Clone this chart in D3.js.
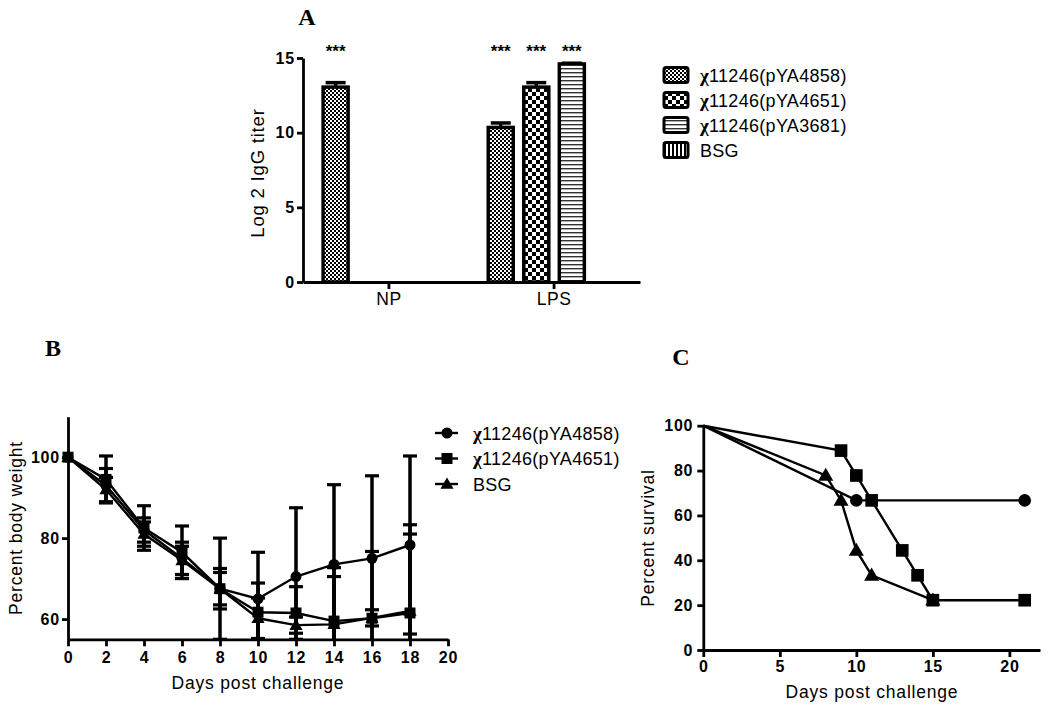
<!DOCTYPE html>
<html><head><meta charset="utf-8">
<script src="https://cdn.jsdelivr.net/npm/d3@7"></script>
<style>body{margin:0;background:#fff}</style>
</head><body>
<svg id="c" width="1050" height="711" xmlns="http://www.w3.org/2000/svg"></svg>
<script>
// ---------------- DATA ----------------
// Panel A
const groupsA = ["NP", "LPS"];
const seriesA = ["11246(pYA4858)", "11246(pYA4651)", "11246(pYA3681)", "BSG"];
const chiPrefixA = [true, true, true, false];
const npValues = [13.05, 0, 0, 0];
const npErrors = [0.3, 0, 0, 0];
const lpsValues = [10.35, 13.05, 14.6, 0];
const lpsErrors = [0.3, 0.3, 0.05, 0];
const npStars = ["***", "", "", ""];
const lpsStars = ["***", "***", "***", ""];
const yTicksA = [0, 5, 10, 15];

// Panel B
const daysB = [0, 2, 4, 6, 8, 10, 12, 14, 16, 18];
const weight4858 = [100, 93, 82, 75, 67.5, 65, 70.5, 73.5, 75, 78.3];
const weight4858Err = [0, 4.2, 3, 4, 12.5, 11.5, 17, 19.7, 20.4, 22];
const weight4651 = [100, 94.5, 82.5, 76.5, 67.5, 61.7, 61.5, 59.5, 60.2, 61.5];
const weight4651Err = [0, 5.8, 5.5, 6.5, 4, 7.2, 6.5, 11, 16.5, 21.8];
const weightBSG = [100, 92, 81, 74.5, 67.5, 60.2, 58.5, 58.7, 60.3, 62];
const weightBSGErr = [0, 3, 3, 3.5, 5, 5, 2, 14, 2, 19];
const seriesB = ["11246(pYA4858)", "11246(pYA4651)", "BSG"];
const xTicksB = [0, 2, 4, 6, 8, 10, 12, 14, 16, 18, 20];
const yTicksB = [60, 80, 100];

// Panel C
const days4858C = [0, 10, 21];
const surv4858C = [100, 66.7, 66.7];
const days4651C = [0, 9, 10, 11, 13, 14, 15, 21];
const surv4651C = [100, 88.9, 77.8, 66.7, 44.4, 33.3, 22.2, 22.2];
const daysBSGC = [0, 8, 9, 10, 11, 15];
const survBSGC = [100, 77.8, 66.7, 44.4, 33.3, 22.2];
const xTicksC = [0, 5, 10, 15, 20];
const yTicksC = [0, 20, 40, 60, 80, 100];

// ---------------- DRAWING ----------------
const SANS = "'Liberation Sans', Arial, sans-serif";
const SERIF = "'Liberation Serif', 'Times New Roman', serif";
const svg = d3.select("#c");
const defs = svg.append("defs");

function pattern(id, w, h, build) {
  const p = defs.append("pattern").attr("id", id).attr("patternUnits", "userSpaceOnUse")
    .attr("width", w).attr("height", h);
  p.append("rect").attr("width", w).attr("height", h).attr("fill", "#fff");
  build(p);
}
pattern("p0", 4, 4, p => {
  p.append("rect").attr("x", 0).attr("y", 0).attr("width", 2).attr("height", 2).attr("fill", "#000");
  p.append("rect").attr("x", 2).attr("y", 2).attr("width", 2).attr("height", 2).attr("fill", "#000");
});
pattern("p1", 8, 8, p => {
  p.append("rect").attr("x", 0).attr("y", 0).attr("width", 4).attr("height", 4).attr("fill", "#000");
  p.append("rect").attr("x", 4).attr("y", 4).attr("width", 4).attr("height", 4).attr("fill", "#000");
});
pattern("p2", 4, 4, p => {
  p.append("rect").attr("x", 0).attr("y", 0).attr("width", 4).attr("height", 1.4).attr("fill", "#333");
});
pattern("p3", 4, 4, p => {
  p.append("rect").attr("x", 0).attr("y", 0).attr("width", 2).attr("height", 4).attr("fill", "#000");
});

function styleAxis(g, bold, size) {
  g.select(".domain").attr("stroke", "#000").attr("stroke-width", 2.8);
  g.selectAll(".tick line").attr("stroke", "#000").attr("stroke-width", 2.8);
  g.selectAll(".tick text").attr("fill", "#000")
    .style("font-family", SANS).style("font-weight", bold ? "bold" : "normal")
    .style("font-size", size + "px").style("letter-spacing", bold ? "0.8px" : "0.5px");
}
function addLabel(text, x, y, rotate, size) {
  const t = svg.append("text").attr("x", x).attr("y", y)
    .attr("text-anchor", "middle")
    .style("font-family", SANS).style("font-size", (size || 17.5) + "px").style("letter-spacing", "0.8px")
    .attr("fill", "#000").text(text);
  if (rotate) t.attr("transform", `rotate(-90,${x},${y})`);
}
function addLegendText(x, y, name, chi) {
  const t = svg.append("text").attr("x", x).attr("y", y)
    .style("font-family", SANS).style("font-size", "18px").style("letter-spacing", "0.3px").attr("fill", "#000");
  if (chi) t.append("tspan").style("font-family", SERIF).style("font-weight", "bold").style("font-size", "19px").text("χ");
  t.append("tspan").text(name);
}
function panelLetter(letter, x, y) {
  svg.append("text").attr("x", x).attr("y", y).attr("text-anchor", "middle")
    .style("font-family", SERIF).style("font-weight", "bold").style("font-size", "24px")
    .attr("fill", "#000").text(letter);
}

// ======== Panel A ========
panelLetter("A", 307, 25);
const xA0 = d3.scaleBand().domain(groupsA).range([303, 640]).paddingInner(0.139).paddingOuter(0.09);
const xA1 = d3.scaleBand().domain(seriesA).range([0, xA0.bandwidth()]).paddingInner(0.296).paddingOuter(0.148);
const yA = d3.scaleLinear().domain([0, 15]).range([282, 58]);
const valuesA = { NP: npValues, LPS: lpsValues };
const errorsA = { NP: npErrors, LPS: lpsErrors };
const starsA = { NP: npStars, LPS: lpsStars };

const gA = svg.append("g");
groupsA.forEach(g => {
  seriesA.forEach((s, i) => {
    const v = valuesA[g][i], e = errorsA[g][i];
    const cx = xA0(g) + xA1(s) + xA1.bandwidth() / 2;
    if (v > 0) {
      gA.append("line").attr("x1", cx).attr("x2", cx).attr("y1", yA(v)).attr("y2", yA(v + e))
        .attr("stroke", "#000").attr("stroke-width", 3.5);
      gA.append("line").attr("x1", cx - 10).attr("x2", cx + 10).attr("y1", yA(v + e)).attr("y2", yA(v + e))
        .attr("stroke", "#000").attr("stroke-width", 3.5);
      gA.append("rect").attr("x", xA0(g) + xA1(s)).attr("y", yA(v))
        .attr("width", xA1.bandwidth()).attr("height", yA(0) - yA(v))
        .attr("fill", `url(#p${i})`).attr("stroke", "#000").attr("stroke-width", 3.5);
    }
    if (starsA[g][i]) {
      gA.append("text").attr("x", cx).attr("y", 57).attr("text-anchor", "middle")
        .style("font-family", SANS).style("font-weight", "bold").style("font-size", "17px").attr("fill", "#000").text(starsA[g][i]);
    }
  });
});
const axA_y = svg.append("g").attr("transform", "translate(303,0)")
  .call(d3.axisLeft(yA).tickValues(yTicksA).tickSize(6).tickSizeOuter(0).tickPadding(2));
styleAxis(axA_y, true, 16);
const axA_x = svg.append("g").attr("transform", "translate(0,282)")
  .call(d3.axisBottom(xA0).tickSize(7).tickSizeOuter(0).tickPadding(4));
styleAxis(axA_x, false, 17.5);
addLabel("Log 2 IgG titer", 264, 173, true, 18.5);

seriesA.forEach((s, i) => {
  const cy = 75 + i * 25;
  svg.append("rect").attr("x", 664).attr("y", cy - 7.5).attr("width", 24).attr("height", 15)
    .attr("rx", 2).attr("fill", `url(#p${i})`).attr("stroke", "#000").attr("stroke-width", 3);
  addLegendText(700, cy + 6.5, s, chiPrefixA[i]);
});

// ======== Panel B ========
panelLetter("B", 53, 356);
const xB = d3.scaleLinear().domain([0, 20]).range([68, 448]);
const yB = d3.scaleLinear().domain([55, 110]).range([639.3, 416.7]);
defs.append("clipPath").attr("id", "clipB").append("rect")
  .attr("x", 55).attr("y", 405).attr("width", 410).attr("height", 236);

const dataB = [
  { vals: weight4858, errs: weight4858Err, shape: "circle" },
  { vals: weight4651, errs: weight4651Err, shape: "square" },
  { vals: weightBSG, errs: weightBSGErr, shape: "triangle" }
];
function marker(g, shape, x, y, scale) {
  scale = scale || 1;
  if (shape === "circle") {
    g.append("circle").attr("cx", x).attr("cy", y).attr("r", 5.5 * scale).attr("fill", "#000");
  } else if (shape === "square") {
    const s = 11 * scale;
    g.append("rect").attr("x", x - s / 2).attr("y", y - s / 2).attr("width", s).attr("height", s).attr("fill", "#000");
  } else {
    g.append("path").attr("d", d3.symbol(d3.symbolTriangle, 75 * scale * scale)())
      .attr("transform", `translate(${x},${y + 1})`).attr("fill", "#000");
  }
}
const gB = svg.append("g").attr("clip-path", "url(#clipB)");
dataB.forEach(ds => {
  daysB.forEach((d, i) => {
    const e = ds.errs[i];
    if (e <= 0) return;
    const x = xB(d);
    const yTop = yB(ds.vals[i] + e), yBot = yB(ds.vals[i] - e);
    gB.append("line").attr("x1", x).attr("x2", x).attr("y1", yTop).attr("y2", yBot)
      .attr("stroke", "#000").attr("stroke-width", 3.5);
    [yTop, yBot].forEach(yy => gB.append("line").attr("x1", x - 7).attr("x2", x + 7)
      .attr("y1", yy).attr("y2", yy).attr("stroke", "#000").attr("stroke-width", 3.2));
  });
});
const lineB = d3.line().x(d => xB(d[0])).y(d => yB(d[1]));
dataB.forEach(ds => {
  gB.append("path").attr("d", lineB(daysB.map((d, i) => [d, ds.vals[i]])))
    .attr("fill", "none").attr("stroke", "#000").attr("stroke-width", 2.4);
});
dataB.forEach(ds => {
  daysB.forEach((d, i) => marker(gB, ds.shape, xB(d), yB(ds.vals[i])));
});
const axB_y = svg.append("g").attr("transform", "translate(68,0)")
  .call(d3.axisLeft(yB).tickValues(yTicksB).tickSize(6).tickSizeOuter(0).tickPadding(2));
styleAxis(axB_y, true, 16);
const axB_x = svg.append("g").attr("transform", "translate(0,639.3)")
  .call(d3.axisBottom(xB).tickValues(xTicksB).tickSize(7).tickSizeOuter(0).tickPadding(5));
styleAxis(axB_x, true, 16);
addLabel("Percent body weight", 22, 528, true);
addLabel("Days post challenge", 258, 689, false);

seriesB.forEach((s, i) => {
  const cy = 433 + i * 25.5;
  svg.append("line").attr("x1", 435).attr("x2", 458).attr("y1", cy).attr("y2", cy)
    .attr("stroke", "#000").attr("stroke-width", 2.4);
  marker(svg, dataB[i].shape, 447, cy);
  addLegendText(473, cy + 6.5, s, i < 2);
});

// ======== Panel C ========
panelLetter("C", 681, 365);
const xC = d3.scaleLinear().domain([0, 22]).range([703.3, 1040]);
const yC = d3.scaleLinear().domain([0, 100]).range([650, 425.7]);
const dataC = [
  { days: days4858C, vals: surv4858C, shape: "circle" },
  { days: days4651C, vals: surv4651C, shape: "square" },
  { days: daysBSGC, vals: survBSGC, shape: "triangle" }
];
const lineC = d3.line().x(d => xC(d[0])).y(d => yC(d[1]));
const gC = svg.append("g");
dataC.forEach(ds => {
  gC.append("path").attr("d", lineC(ds.days.map((d, i) => [d, ds.vals[i]])))
    .attr("fill", "none").attr("stroke", "#000").attr("stroke-width", 2.4);
});
[2, 0, 1].forEach(k => {
  const ds = dataC[k];
  ds.days.forEach((d, i) => { if (d > 0) marker(gC, ds.shape, xC(d), yC(ds.vals[i]), 1.15); });
});
const axC_y = svg.append("g").attr("transform", "translate(703.3,0)")
  .call(d3.axisLeft(yC).tickValues(yTicksC).tickSize(6).tickSizeOuter(0).tickPadding(4));
styleAxis(axC_y, true, 16);
const axC_x = svg.append("g").attr("transform", "translate(0,650)")
  .call(d3.axisBottom(xC).tickValues(xTicksC).tickSize(7).tickSizeOuter(0).tickPadding(4));
styleAxis(axC_x, true, 16);
addLabel("Percent survival", 654, 538, true);
addLabel("Days post challenge", 872, 698, false);
</script></body></html>
